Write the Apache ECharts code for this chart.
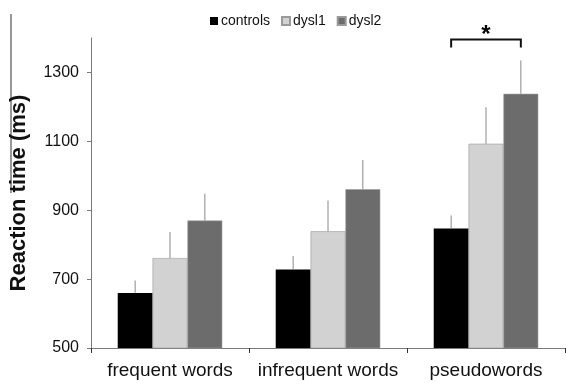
<!DOCTYPE html>
<html>
<head>
<meta charset="utf-8">
<script src="https://cdn.jsdelivr.net/npm/echarts@6/dist/echarts.min.js"></script>
<style>
html,body{margin:0;padding:0;background:#fff;}
#c{width:566px;height:385px;}
</style>
</head>
<body>
<div id="c"></div>
<script>
const categories = ['frequent words', 'infrequent words', 'pseudowords'];
const groups = ['controls', 'dysl1', 'dysl2'];
const controls = [660, 728, 847];
const dysl1 = [761, 839, 1093];
const dysl2 = [870, 961, 1238];
const controlsErr = [36, 39, 38];
const dysl1Err = [76, 89, 106];
const dysl2Err = [78, 85, 97];
const yTicks = [500, 700, 900, 1100, 1300];
const sigCategory = 2;
const sigLevel = 1396;

const values = [controls, dysl1, dysl2];
const errs = [controlsErr, dysl1Err, dysl2Err];
const colors = ['#000000', '#d2d2d2', '#6c6c6c'];
const barFrac = 0.2206;

const chart = echarts.init(document.getElementById('c'), null, {renderer: 'canvas'});

const series = [];
groups.forEach((g, k) => {
  series.push({
    name: g,
    type: 'bar',
    data: values[k],
    barWidth: (barFrac * 100) + '%',
    barGap: '0%',
    itemStyle: {color: colors[k], borderColor: k === 0 ? '#000' : '#9a9a9a', borderWidth: k === 0 ? 0 : 0.6},
    emphasis: {disabled: true},
    z: 2
  });
});
groups.forEach((g, k) => {
  series.push({
    name: g + ' err',
    type: 'custom',
    data: values[k].map((v, i) => [i, v, errs[k][i]]),
    encode: {x: 0, y: 1},
    z: 3,
    silent: true,
    renderItem: function (params, api) {
      const i = api.value(0), v = api.value(1), e = api.value(2);
      const p0 = api.coord([i, v]);
      const p1 = api.coord([i, v + e]);
      const band = api.size([1, 0])[0];
      const off = (k - 1) * band * barFrac;
      return {
        type: 'line',
        shape: {x1: p0[0] + off, y1: p0[1], x2: p0[0] + off, y2: p1[1]},
        style: {stroke: '#8a8a8a', lineWidth: 1}
      };
    }
  });
});
series.push({
  name: 'sig',
  type: 'custom',
  data: [[sigCategory, sigLevel]],
  encode: {x: 0, y: 1},
  clip: false,
  silent: true,
  z: 4,
  renderItem: function (params, api) {
    const p = api.coord([api.value(0), api.value(1)]);
    const band = api.size([1, 0])[0];
    const l = p[0] - band * barFrac, r = p[0] + band * barFrac;
    return {
      type: 'group',
      children: [
        {type: 'polyline', shape: {points: [[l, p[1] + 8], [l, p[1]], [r, p[1]], [r, p[1] + 8]]},
         style: {stroke: '#111', lineWidth: 2, fill: null}},
        {type: 'text', x: p[0], y: p[1] - 16,
         style: {text: '*', fontSize: 24, fontWeight: 'bold', fontFamily: 'Liberation Sans, Arial', fill: '#000', align: 'center', verticalAlign: 'top'}}
      ]
    };
  }
});

chart.setOption({
  animation: false,
  backgroundColor: '#fff',
  textStyle: {fontFamily: 'Liberation Sans, Arial, sans-serif'},
  legend: {
    data: groups,
    top: 9,
    left: 205,
    itemWidth: 8,
    itemHeight: 8,
    itemGap: 11,
    icon: 'rect',
    textStyle: {fontSize: 14, color: '#111', padding: [0, 0, 0, -2]}
  },
  graphic: [{
    type: 'line',
    shape: {x1: 11, y1: 14, x2: 11, y2: 193},
    style: {stroke: '#333', lineWidth: 1}
  }],
  grid: {left: 89, right: 1, top: 38, bottom: 37},
  xAxis: {
    type: 'category',
    data: categories,
    boundaryGap: true,
    axisLine: {lineStyle: {color: '#7a7a7a', width: 1}},
    axisTick: {show: true, length: 5, lineStyle: {color: '#333'}},
    axisLabel: {fontSize: 19, color: '#111', margin: 13, interval: 0, hideOverlap: false}
  },
  yAxis: {
    type: 'value',
    min: 500,
    max: 1400,
    name: 'Reaction time (ms)',
    nameLocation: 'middle',
    nameGap: 61,
    nameTextStyle: {fontSize: 22, fontWeight: 'bold', color: '#111'},
    splitLine: {show: false},
    axisLine: {show: true, lineStyle: {color: '#7a7a7a', width: 1}},
    axisTick: {show: true, length: 4, lineStyle: {color: '#7a7a7a'}, customValues: yTicks},
    axisLabel: {fontSize: 16, color: '#111', margin: 12, customValues: yTicks, formatter: function (v) { return String(v); }}
  },
  series: series
});
</script>
</body>
</html>
